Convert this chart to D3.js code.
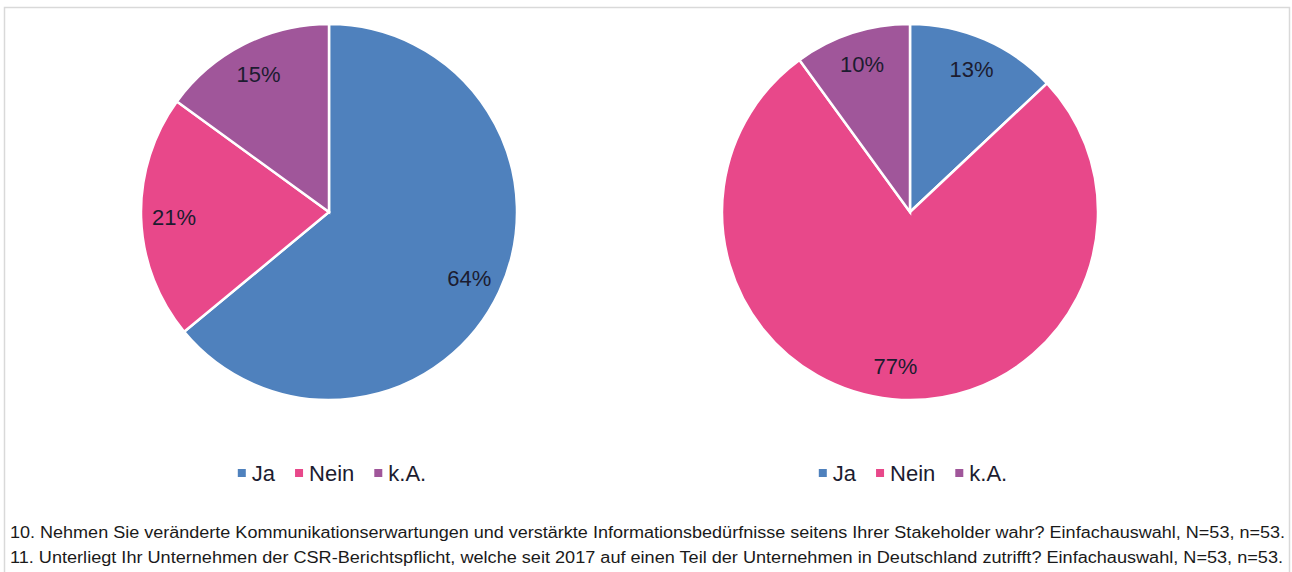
<!DOCTYPE html>
<html lang="de">
<head>
<meta charset="UTF-8">
<title>Kommunikationserwartungen / CSR-Berichtspflicht</title>
<script src="https://d3js.org/d3.v7.min.js"></script>
<style>
  body { margin:0; background:#fff; }
  svg { display:block; font-family:"Liberation Sans", Arial, sans-serif; }
  .label { font-size:22px; fill:#1c1c30; }
  .legend text { font-size:22px; fill:#1c1c30; }
  .note { font-size:16px; fill:#1a1a1a; }
</style>
</head>
<body>
<script>
// answer categories and colours
var categories = ["Ja", "Nein", "k.A."];
var colors = ["#4f81bd", "#e8488a", "#a0569a"];

// share of answers in percent
var q10Values = [64, 21, 15];
var q11Values = [13, 77, 10];

var notes = [
  "10. Nehmen Sie veränderte Kommunikationserwartungen und verstärkte Informationsbedürfnisse seitens Ihrer Stakeholder wahr? Einfachauswahl, N=53, n=53.",
  "11. Unterliegt Ihr Unternehmen der CSR-Berichtspflicht, welche seit 2017 auf einen Teil der Unternehmen in Deutschland zutrifft? Einfachauswahl, N=53, n=53."
];

var width = 1292, height = 572;
var radius = 188;

var svg = d3.select("body").append("svg")
    .attr("width", width)
    .attr("height", height);

// frame
svg.append("rect")
    .attr("x", 4.5).attr("y", 7.5)
    .attr("width", 1285).attr("height", 600)
    .attr("fill", "none")
    .attr("stroke", "#d9d9d9")
    .attr("stroke-width", 1.5);

var color = d3.scaleOrdinal().domain(categories).range(colors);

var pie = d3.pie().sort(null).value(function(d){ return d.value; });
var arc = d3.arc().innerRadius(0).outerRadius(radius);
var labelArc = d3.arc().innerRadius(155).outerRadius(155);

function drawPie(values, cx, cy) {
  var data = categories.map(function(c, i){ return {cat:c, value:values[i]}; });
  var g = svg.append("g").attr("transform", "translate(" + cx + "," + cy + ")");

  g.selectAll("path.slice")
   .data(pie(data))
   .enter().append("path")
   .attr("class", "slice")
   .attr("d", arc)
   .attr("fill", function(d){ return color(d.data.cat); })
   .attr("stroke", "#fff")
   .attr("stroke-width", 2.5);

  g.selectAll("text.label")
   .data(pie(data))
   .enter().append("text")
   .attr("class", "label")
   .attr("transform", function(d){ return "translate(" + labelArc.centroid(d) + ")"; })
   .attr("text-anchor", "middle")
   .attr("dy", "0.35em")
   .text(function(d){ return d.data.value + "%"; });

  // legend, centred under the pie
  var lg = svg.append("g").attr("class", "legend");
  var items = lg.selectAll("g").data(categories).enter().append("g");
  items.append("rect")
    .attr("width", 8).attr("height", 8)
    .attr("y", -4)
    .attr("fill", function(d){ return color(d); });
  items.append("text")
    .attr("x", 14)
    .attr("dy", "0.35em")
    .text(function(d){ return d; });

  var x = 0;
  items.each(function(){
    var w = d3.select(this).select("text").node().getComputedTextLength();
    d3.select(this).attr("transform", "translate(" + x + ",0)");
    x += 14 + w + 20;
  });
  var total_w = x - 20;
  lg.attr("transform", "translate(" + (cx + 3 - total_w / 2) + ",473)");
}

drawPie(q10Values, 329, 212);
drawPie(q11Values, 910, 212);

svg.selectAll("text.note")
   .data(notes)
   .enter().append("text")
   .attr("class", "note")
   .attr("x", 10)
   .attr("y", function(d, i){ return 538 + i * 25; })
   .attr("textLength", function(d, i){ return i === 0 ? 1275 : 1273; })
   .attr("lengthAdjust", "spacingAndGlyphs")
   .text(function(d){ return d; });
</script>
</body>
</html>
